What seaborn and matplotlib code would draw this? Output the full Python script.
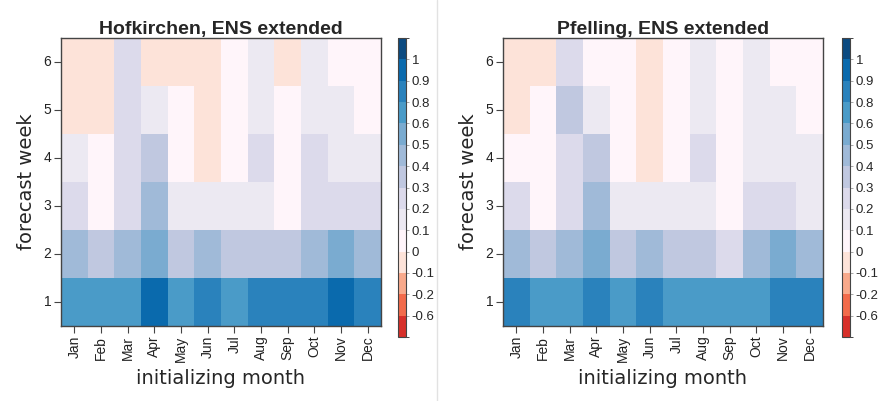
import numpy as np
import pandas as pd
import matplotlib
matplotlib.use("Agg")
import matplotlib.pyplot as plt
from matplotlib.colors import ListedColormap, BoundaryNorm
from matplotlib.lines import Line2D
import seaborn as sns

months = ["Jan", "Feb", "Mar", "Apr", "May", "Jun", "Jul", "Aug", "Sep", "Oct", "Nov", "Dec"]
weeks = [1, 2, 3, 4, 5, 6]

# correlation values, rows = forecast week 1..6, columns = Jan..Dec
hofkirchen = [
    [0.70, 0.70, 0.70, 0.95, 0.70, 0.85, 0.70, 0.85, 0.85, 0.85, 0.95, 0.85],
    [0.45, 0.35, 0.45, 0.55, 0.35, 0.45, 0.35, 0.35, 0.35, 0.45, 0.55, 0.45],
    [0.25, 0.05, 0.25, 0.45, 0.15, 0.15, 0.15, 0.15, 0.05, 0.25, 0.25, 0.25],
    [0.15, 0.05, 0.25, 0.35, 0.05, -0.05, 0.05, 0.25, 0.05, 0.25, 0.15, 0.15],
    [-0.05, -0.05, 0.25, 0.15, 0.05, -0.05, 0.05, 0.15, 0.05, 0.15, 0.15, 0.05],
    [-0.05, -0.05, 0.25, -0.05, -0.05, -0.05, 0.05, 0.15, -0.05, 0.15, 0.05, 0.05],
]
pfelling = [
    [0.85, 0.70, 0.70, 0.85, 0.70, 0.85, 0.70, 0.70, 0.70, 0.70, 0.85, 0.85],
    [0.45, 0.35, 0.45, 0.55, 0.35, 0.45, 0.35, 0.35, 0.25, 0.45, 0.55, 0.45],
    [0.25, 0.05, 0.25, 0.45, 0.15, 0.15, 0.15, 0.15, 0.05, 0.25, 0.25, 0.15],
    [0.05, 0.05, 0.25, 0.35, 0.05, -0.05, 0.05, 0.25, 0.05, 0.15, 0.15, 0.15],
    [-0.05, 0.05, 0.35, 0.15, 0.05, -0.05, 0.05, 0.15, 0.05, 0.15, 0.15, 0.05],
    [-0.05, -0.05, 0.25, 0.05, 0.05, -0.05, 0.05, 0.15, 0.05, 0.15, 0.05, 0.05],
]
titles = ["Hofkirchen, ENS extended", "Pfelling, ENS extended"]

boundaries = [-1.0, -0.6, -0.2, -0.1, 0.0, 0.1, 0.2, 0.3, 0.4, 0.5, 0.6, 0.8, 0.9, 1.0, 1.1]
tick_values = [-0.6, -0.2, -0.1, 0, 0.1, 0.2, 0.3, 0.4, 0.5, 0.6, 0.8, 0.9, 1]
tick_labels = ["-0.6", "-0.2", "-0.1", "0", "0.1", "0.2", "0.3", "0.4", "0.5", "0.6", "0.8", "0.9", "1"]
bin_colors = ["#d7302a", "#f26b4b", "#f8a98b", "#fde3d9", "#fff5fa", "#ece9f2",
              "#dcdaeb", "#c0c8e0", "#a0bad8", "#7aabd0", "#4a9bc8", "#2a82bc",
              "#0a6aad", "#0b4a80"]

cmap = ListedColormap(bin_colors)
norm = BoundaryNorm(boundaries, cmap.N)

sns.set_style("white")
plt.rcParams["font.family"] = ["Liberation Sans", "DejaVu Sans"]

W, H = 879, 401
fig = plt.figure(figsize=(W / 100, H / 100), dpi=100)

panels = [
    (hofkirchen, titles[0], 61, 398),
    (pfelling, titles[1], 503, 842),
]

for data, title, ax_left, cb_left in panels:
    df = pd.DataFrame(data, index=weeks, columns=months).iloc[::-1]
    ax = fig.add_axes([ax_left / W, (H - 326) / H, 320 / W, 288 / H])
    sns.heatmap(df, ax=ax, cmap=cmap, norm=norm, cbar=False, linewidths=0)
    for s in ax.spines.values():
        s.set_visible(True)
        s.set_color("#444444")
        s.set_linewidth(1.0)
    ax.set_xticks(np.arange(len(months)) + 0.5)
    ax.set_xticklabels(months, rotation=90, fontsize=10, color="#222222")
    ax.set_yticks(np.arange(len(weeks)) + 0.5)
    ax.set_yticklabels([str(w) for w in weeks[::-1]], rotation=0, fontsize=10, color="#222222")
    ax.tick_params(axis="both", which="both", length=5, width=0.8, color="#444444",
                   bottom=True, left=True, direction="out", pad=2)
    ax.set_xlabel("initializing month", family="DejaVu Sans", fontsize=14, labelpad=5)
    ax.set_ylabel("forecast week", family="DejaVu Sans", fontsize=14, labelpad=5)
    ax.set_title(title, fontsize=14, fontweight="bold", pad=3)

    cax = fig.add_axes([cb_left / W, (H - 337) / H, 8 / W, 299 / H])
    sm = matplotlib.cm.ScalarMappable(norm=norm, cmap=cmap)
    cb = fig.colorbar(sm, cax=cax, boundaries=boundaries, spacing="uniform",
                      ticks=tick_values)
    cb.ax.set_yticklabels(tick_labels)
    cb.ax.tick_params(labelsize=9.5, length=2, width=0.6, color="#999999", pad=2)
    cb.outline.set_edgecolor("#444444")
    cb.outline.set_linewidth(0.8)

fig.add_artist(Line2D([437 / W, 437 / W], [0, 1], color="#e2e2e2", lw=1))

fig.savefig("out.png", dpi=100)
